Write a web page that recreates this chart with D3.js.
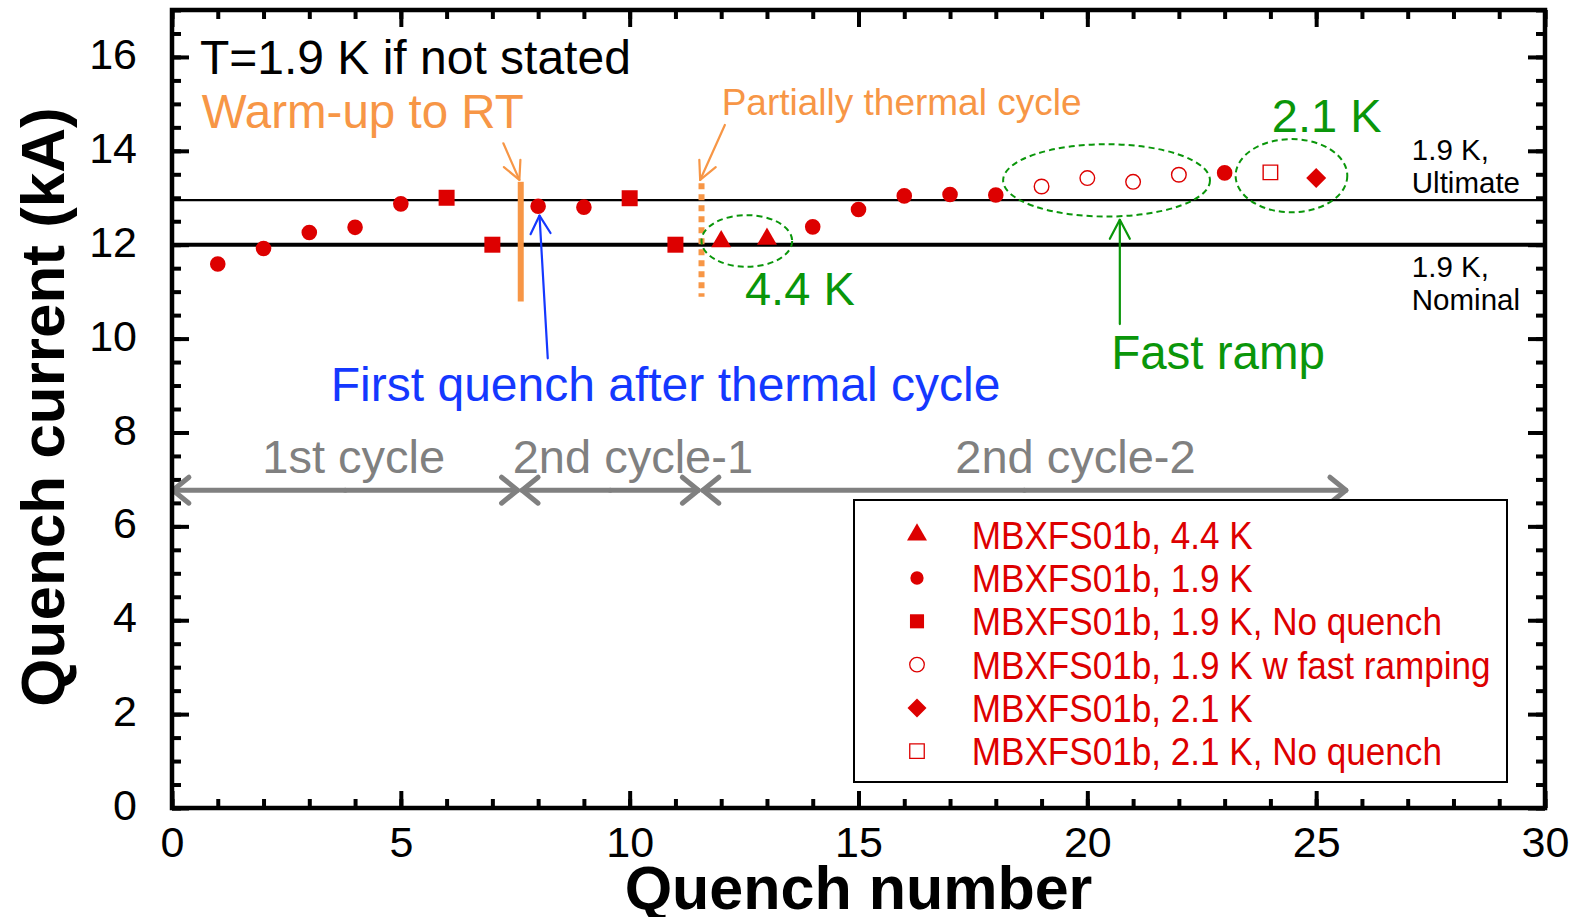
<!DOCTYPE html>
<html><head><meta charset="utf-8">
<script src="https://cdn.jsdelivr.net/npm/d3@7"></script>
<style>
body{margin:0;background:#fff}
svg{display:block}
text{font-family:"Liberation Sans",Arial,Helvetica,sans-serif}
</style>
</head><body>
<svg id="chart" width="1579" height="917"></svg>
<script>
// ---- Quench training data (quench number, current in kA) ----
const circleN      = [1, 2, 3, 4, 5, 8, 9, 14, 15, 16, 17, 18, 23];
const circleI      = [11.59, 11.92, 12.26, 12.37, 12.87, 12.82, 12.80, 12.38, 12.75, 13.04, 13.07, 13.06, 13.53];
const squareN      = [6, 7, 10, 11];
const squareI      = [13.0, 12.0, 12.99, 12.0];
const triangleN    = [12, 13];
const triangleI    = [12.07, 12.12];
const openCircleN  = [19, 20, 21, 22];
const openCircleI  = [13.24, 13.42, 13.34, 13.49];
const diamondN     = [25];
const diamondI     = [13.42];
const openSquareN  = [24];
const openSquareI  = [13.54];

// reference currents
const nominalI  = 12.0;
const ultimateI = 12.95;

// axis ticks
const xMajor = [0, 5, 10, 15, 20, 25, 30];
const xMinor = d3.range(0, 31, 1);
const yMajor = [0, 2, 4, 6, 8, 10, 12, 14, 16];
const yMinor = d3.range(0, 17.01, 0.5);

// legend entries
const legendLabels = [
  "MBXFS01b, 4.4 K",
  "MBXFS01b, 1.9 K",
  "MBXFS01b, 1.9 K, No quench",
  "MBXFS01b, 1.9 K w fast ramping",
  "MBXFS01b, 2.1 K",
  "MBXFS01b, 2.1 K, No quench"
];
const legendShapes = ["triangle", "circle", "square", "openCircle", "diamond", "openSquare"];

// cycle ranges (quench-number extent of each arrow)
const cycleNames = ["1st cycle", "2nd cycle-1", "2nd cycle-2"];
const cycleStart = [0.02, 7.65, 11.6];
const cycleEnd   = [7.55, 11.5, 25.65];
const cycleLabelX = [3.97, 10.07, 19.74];

// ---- layout ----
const svg = d3.select("#chart");
const x = d3.scaleLinear().domain([0, 30]).range([172, 1545]);
const y = d3.scaleLinear().domain([0, 17]).range([808, 10]);

const RED = "#dd0000", ORANGE = "#f79646", GREEN = "#0a960a", BLUE = "#1438ff", GRAY = "#808080";

// ---- axes with inward ticks on all four sides ----
function styleAxis(g) {
  g.select(".domain").remove();
  g.selectAll(".tick line").attr("stroke", "#000").attr("stroke-width", 4);
}
const tickFont = 43;

svg.append("g").attr("transform", `translate(0,${y(0)})`)
  .call(d3.axisBottom(x).tickValues(xMinor).tickSize(-9).tickFormat("")).call(styleAxis);
svg.append("g").attr("transform", `translate(0,${y(0)})`)
  .call(d3.axisBottom(x).tickValues(xMajor).tickSize(-17).tickPadding(18).tickFormat(d3.format("d")))
  .call(styleAxis)
  .call(g => g.selectAll("text").attr("font-size", tickFont).attr("fill", "#000")
    .attr("font-family", "Liberation Sans, Arial, sans-serif"));
svg.append("g").attr("transform", `translate(0,${y(17)})`)
  .call(d3.axisTop(x).tickValues(xMinor).tickSize(-9).tickFormat("")).call(styleAxis);
svg.append("g").attr("transform", `translate(0,${y(17)})`)
  .call(d3.axisTop(x).tickValues(xMajor).tickSize(-17).tickFormat("")).call(styleAxis);

svg.append("g").attr("transform", `translate(${x(0)},0)`)
  .call(d3.axisLeft(y).tickValues(yMinor).tickSize(-9).tickFormat("")).call(styleAxis);
svg.append("g").attr("transform", `translate(${x(0)},0)`)
  .call(d3.axisLeft(y).tickValues(yMajor).tickSize(-17).tickPadding(35).tickFormat(d3.format("d")))
  .call(styleAxis)
  .call(g => g.selectAll("text").attr("font-size", tickFont).attr("fill", "#000").attr("dy", "0.27em")
    .attr("font-family", "Liberation Sans, Arial, sans-serif"));
svg.append("g").attr("transform", `translate(${x(30)},0)`)
  .call(d3.axisRight(y).tickValues(yMinor).tickSize(-9).tickFormat("")).call(styleAxis);
svg.append("g").attr("transform", `translate(${x(30)},0)`)
  .call(d3.axisRight(y).tickValues(yMajor).tickSize(-17).tickFormat("")).call(styleAxis);

// ---- nominal / ultimate current lines ----
svg.append("line").attr("x1", x(0)).attr("x2", x(30))
  .attr("y1", y(ultimateI)).attr("y2", y(ultimateI)).attr("stroke", "#000").attr("stroke-width", 2.2);
svg.append("line").attr("x1", x(0)).attr("x2", x(30))
  .attr("y1", y(nominalI)).attr("y2", y(nominalI)).attr("stroke", "#000").attr("stroke-width", 4);

// ---- thermal-cycle markers ----
const warmUpX = 7.62, partialX = 11.57;
svg.append("line").attr("x1", x(warmUpX)).attr("x2", x(warmUpX))
  .attr("y1", y(13.34)).attr("y2", y(10.79)).attr("stroke", ORANGE).attr("stroke-width", 6);
svg.append("line").attr("x1", x(partialX)).attr("x2", x(partialX))
  .attr("y1", y(13.31)).attr("y2", y(10.89)).attr("stroke", ORANGE).attr("stroke-width", 6)
  .attr("stroke-dasharray", "6,5");

// open arrow helper (line + chevron head at the tip)
function arrow(x0, y0, x1, y1, color, width, headLen, headHalf) {
  const px0 = x(x0), py0 = y(y0), px1 = x(x1), py1 = y(y1);
  const ang = Math.atan2(py1 - py0, px1 - px0);
  const g = svg.append("g").attr("stroke", color).attr("stroke-width", width)
    .attr("fill", "none").attr("stroke-linecap", "round").attr("stroke-linejoin", "round");
  g.append("line").attr("x1", px0).attr("y1", py0).attr("x2", px1).attr("y2", py1);
  const bx = px1 - headLen * Math.cos(ang), by = py1 - headLen * Math.sin(ang);
  const nx = -Math.sin(ang) * headHalf, ny = Math.cos(ang) * headHalf;
  g.append("path").attr("d", `M${bx + nx},${by + ny}L${px1},${py1}L${bx - nx},${by - ny}`);
  return g;
}

arrow(7.24, 14.16, 7.59, 13.38, ORANGE, 2.2, 18, 9);
arrow(12.08, 14.55, 11.54, 13.38, ORANGE, 2.2, 18, 9);
arrow(8.21, 9.58, 8.03, 12.62, BLUE, 2.2, 18, 10);
arrow(20.71, 10.31, 20.71, 12.53, GREEN, 2.2, 19, 10);

// ---- cycle range arrows (double headed) ----
cycleNames.forEach((name, i) => {
  const yy = 6.77;
  const mid = (cycleStart[i] + cycleEnd[i]) / 2;
  arrow(mid, yy, cycleEnd[i], yy, GRAY, 5, 16, 13);
  arrow(mid, yy, cycleStart[i], yy, GRAY, 5, 16, 13);
  svg.append("text").attr("x", x(cycleLabelX[i])).attr("y", y(7.14))
    .attr("text-anchor", "middle").attr("font-size", 47).attr("fill", GRAY).text(name);
});

// ---- dashed ellipses grouping special runs ----
const ellipses = [
  {cx: 12.56, cy: 12.08, rx: 0.99, ry: 0.55},
  {cx: 20.42, cy: 13.37, rx: 2.26, ry: 0.77},
  {cx: 24.46, cy: 13.47, rx: 1.22, ry: 0.78}
];
svg.selectAll("ellipse.grp").data(ellipses).join("ellipse").attr("class", "grp")
  .attr("cx", d => x(d.cx)).attr("cy", d => y(d.cy))
  .attr("rx", d => x(d.rx) - x(0)).attr("ry", d => y(0) - y(d.ry))
  .attr("fill", "none").attr("stroke", GREEN).attr("stroke-width", 2).attr("stroke-dasharray", "6,4");

// ---- data markers ----
const shapes = {
  circle:     {type: d3.symbolCircle,   size: Math.PI * 7.8 * 7.8, fill: RED,    stroke: "none", rot: 0},
  square:     {type: d3.symbolSquare,   size: 16 * 16,             fill: RED,    stroke: "none", rot: 0},
  triangle:   {type: d3.symbolTriangle, size: 173,                 fill: RED,    stroke: "none", rot: 0},
  openCircle: {type: d3.symbolCircle,   size: Math.PI * 7.3 * 7.3, fill: "#fff", stroke: RED,    rot: 0},
  diamond:    {type: d3.symbolSquare,   size: 200,                 fill: RED,    stroke: "none", rot: 45},
  openSquare: {type: d3.symbolSquare,   size: 14.5 * 14.5,         fill: "#fff", stroke: RED,    rot: 0}
};
function drawSeries(ns, is, key) {
  const s = shapes[key];
  svg.append("g").selectAll("path").data(ns.map((n, i) => ({n, v: is[i]}))).join("path")
    .attr("d", d3.symbol().type(s.type).size(s.size))
    .attr("transform", d => `translate(${x(d.n)},${y(d.v)}) rotate(${s.rot})`)
    .attr("fill", s.fill).attr("stroke", s.stroke).attr("stroke-width", 1.4);
}
drawSeries(circleN, circleI, "circle");
drawSeries(squareN, squareI, "square");
drawSeries(triangleN, triangleI, "triangle");
drawSeries(openCircleN, openCircleI, "openCircle");
drawSeries(diamondN, diamondI, "diamond");
drawSeries(openSquareN, openSquareI, "openSquare");

// ---- plot frame ----
svg.append("rect").attr("x", x(0)).attr("y", y(17)).attr("width", x(30) - x(0)).attr("height", y(0) - y(17))
  .attr("fill", "none").attr("stroke", "#000").attr("stroke-width", 4.5);

// ---- annotations ----
function label(txt, xv, yv, size, color, anchor) {
  return svg.append("text").attr("x", x(xv)).attr("y", y(yv)).attr("font-size", size)
    .attr("fill", color).attr("text-anchor", anchor || "start").text(txt);
}
label("T=1.9 K if not stated", 0.61, 15.64, 48, "#000");
label("Warm-up to RT", 0.65, 14.48, 47.5, ORANGE);
label("Partially thermal cycle", 12.01, 14.76, 37, ORANGE);
label("4.4 K", 12.52, 10.72, 47, GREEN);
label("2.1 K", 24.03, 14.41, 47, GREEN);
label("Fast ramp", 20.52, 9.36, 47.5, GREEN);
label("First quench after thermal cycle", 3.47, 8.67, 48, BLUE);
label("1.9 K,", 27.09, 13.8, 29.5, "#000");
label("Ultimate", 27.09, 13.1, 29.5, "#000");
label("1.9 K,", 27.09, 11.31, 29.5, "#000");
label("Nominal", 27.09, 10.61, 29.5, "#000");

// ---- legend ----
const lg = svg.append("g");
lg.append("rect").attr("x", 854).attr("y", 500).attr("width", 653).attr("height", 282)
  .attr("fill", "#fff").attr("stroke", "#000").attr("stroke-width", 2);
const legendScale = {
  circle: 0.85, square: 0.88, triangle: 1.0, openCircle: 1, diamond: 0.95, openSquare: 1
};
legendLabels.forEach((lab, i) => {
  const cy = 534.7 + i * 43.3;
  const s = shapes[legendShapes[i]];
  lg.append("path")
    .attr("d", d3.symbol().type(s.type).size(s.size * legendScale[legendShapes[i]] * legendScale[legendShapes[i]]))
    .attr("transform", `translate(917,${cy}) rotate(${s.rot})`)
    .attr("fill", s.fill).attr("stroke", s.stroke).attr("stroke-width", 1.3);
  lg.append("text").attr("transform", `translate(971.8,${cy + 14}) scale(0.9,1)`)
    .attr("font-size", 39).attr("fill", RED).text(lab);
});

// ---- axis titles ----
svg.append("text").attr("x", 858.5).attr("y", 909).attr("text-anchor", "middle")
  .attr("font-size", 61).attr("font-weight", "bold").attr("fill", "#000").text("Quench number");
svg.append("text").attr("transform", "translate(64,407) rotate(-90)").attr("text-anchor", "middle")
  .attr("font-size", 62).attr("font-weight", "bold").attr("fill", "#000").text("Quench current (kA)");
</script>
</body></html>
